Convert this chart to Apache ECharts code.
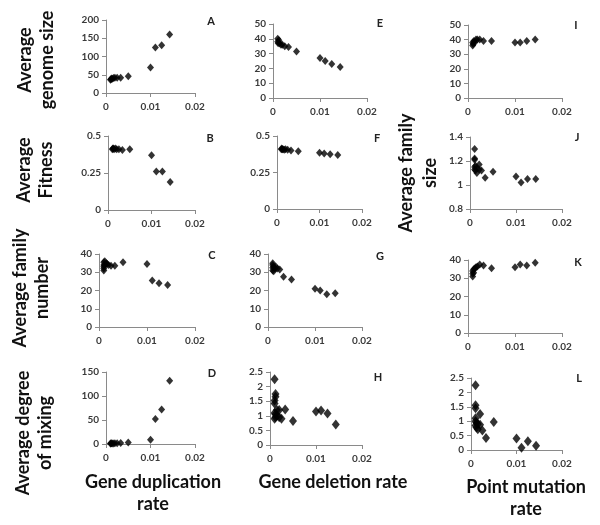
<!DOCTYPE html>
<html><head><meta charset="utf-8">
<script src="https://cdn.jsdelivr.net/npm/echarts@6/dist/echarts.min.js"></script>
<style>html,body{margin:0;padding:0;background:#fff}#c{width:600px;height:525px}</style>
</head><body><div id="c"></div>
<script>
// Panel data (x = rate, y = measured average)
const aX = [0.001, 0.0011, 0.00125, 0.0014, 0.0017, 0.002, 0.0025, 0.0033, 0.005, 0.01, 0.0111, 0.0125, 0.0143];
const aY = [36, 38, 40, 39, 41, 42, 42, 42, 46, 70, 125, 131, 160];
const eX = [0.001, 0.001, 0.0011, 0.00125, 0.0014, 0.0017, 0.002, 0.0025, 0.0033, 0.005, 0.01, 0.0111, 0.0125, 0.0143];
const eY = [40, 38, 37, 39, 37, 36, 36, 35, 34.5, 31.5, 27, 25, 23, 21];
const iX = [0.001, 0.001, 0.0011, 0.00125, 0.0014, 0.0017, 0.002, 0.0025, 0.0033, 0.005, 0.01, 0.0111, 0.0125, 0.0143];
const iY = [38, 36, 37, 39, 38, 40, 40, 40, 39, 39, 38, 38, 39, 40];
const bX = [0.001, 0.0011, 0.00125, 0.0014, 0.0017, 0.002, 0.0025, 0.0033, 0.005, 0.01, 0.0111, 0.0125, 0.0143];
const bY = [0.41, 0.415, 0.415, 0.41, 0.415, 0.41, 0.41, 0.405, 0.41, 0.37, 0.26, 0.26, 0.19];
const fX = [0.001, 0.0011, 0.00125, 0.0014, 0.0017, 0.002, 0.0025, 0.0033, 0.005, 0.01, 0.0111, 0.0125, 0.0143];
const fY = [0.41, 0.415, 0.41, 0.41, 0.405, 0.41, 0.405, 0.40, 0.395, 0.385, 0.38, 0.375, 0.37];
const jX = [0.001, 0.001, 0.001, 0.001, 0.001, 0.0012, 0.0012, 0.0015, 0.0015, 0.002, 0.002, 0.0025, 0.0033, 0.005, 0.01, 0.0111, 0.0125, 0.0143];
const jY = [1.30, 1.22, 1.21, 1.15, 1.13, 1.16, 1.12, 1.14, 1.10, 1.17, 1.13, 1.12, 1.06, 1.11, 1.07, 1.02, 1.05, 1.05];
const cX = [0.001, 0.001, 0.001, 0.001, 0.001, 0.0012, 0.0012, 0.0015, 0.0017, 0.002, 0.0025, 0.0033, 0.005, 0.01, 0.0111, 0.0125, 0.0143];
const cY = [31, 32, 33, 34, 35.5, 34, 36, 35, 34.5, 34, 33.5, 33.5, 35.5, 34.5, 25.5, 24, 23];
const gX = [0.001, 0.001, 0.001, 0.001, 0.0012, 0.0012, 0.0015, 0.0017, 0.002, 0.0025, 0.0033, 0.005, 0.01, 0.0111, 0.0125, 0.0143];
const gY = [31, 32.5, 34, 35, 33, 30.5, 32, 33, 32, 31.5, 27.5, 26, 21, 20, 18, 18.5];
const kX = [0.001, 0.001, 0.001, 0.0012, 0.0012, 0.0015, 0.0017, 0.002, 0.0025, 0.0033, 0.005, 0.01, 0.0111, 0.0125, 0.0143];
const kY = [31, 32.5, 34, 33, 35, 35.5, 36, 36.5, 37.5, 37, 35.5, 36, 37.5, 37, 38.5];
const dX = [0.001, 0.0011, 0.00125, 0.0014, 0.0017, 0.002, 0.0025, 0.0033, 0.005, 0.01, 0.0111, 0.0125, 0.0143];
const dY = [1, 1, 1.5, 1, 1, 1.5, 1.5, 2, 3, 9, 52, 72, 132];
const hX = [0.001, 0.001, 0.001, 0.001, 0.001, 0.0012, 0.0012, 0.0012, 0.0012, 0.0015, 0.0015, 0.002, 0.002, 0.0025, 0.0033, 0.005, 0.01, 0.0111, 0.0125, 0.0143];
const hY = [2.25, 1.52, 1.42, 1.1, 0.9, 1.75, 1.65, 1.05, 0.95, 1.2, 1.0, 1.2, 0.95, 0.9, 1.22, 0.82, 1.15, 1.18, 1.08, 0.7];
const lX = [0.001, 0.001, 0.001, 0.001, 0.001, 0.001, 0.0012, 0.0012, 0.0015, 0.0015, 0.002, 0.002, 0.0025, 0.0033, 0.005, 0.01, 0.0111, 0.0125, 0.0143];
const lY = [2.25, 1.55, 1.45, 1.1, 1.0, 0.85, 0.95, 0.78, 0.9, 0.72, 1.25, 0.88, 0.68, 0.42, 0.97, 0.4, 0.08, 0.3, 0.15];

// y-axis ranges per panel [min, max, interval]
const yRanges = {
  A:[0,200,50], E:[0,50,10], I:[0,50,10],
  B:[0,0.5,0.25], F:[0,0.5,0.25], J:[0.8,1.4,0.2],
  C:[0,40,10], G:[0,40,10], K:[0,40,10],
  D:[0,150,50], H:[0,2.5,0.5], L:[0,2.5,0.5]
};
const xTicks = [0, 0.01, 0.02];
const panelLetters = ['A','E','I','B','F','J','C','G','K','D','H','L'];
const yTitles = ['Average\ngenome size','Average\nFitness','Average family\nnumber','Average degree\nof mixing'];
const jTitle = 'Average family\nsize';
const xTitles = ['Gene duplication\nrate','Gene deletion rate','Point mutation\nrate'];

const data = {A:[aX,aY],E:[eX,eY],I:[iX,iY],B:[bX,bY],F:[fX,fY],J:[jX,jY],C:[cX,cY],G:[gX,gY],K:[kX,kY],D:[dX,dY],H:[hX,hY],L:[lX,lY]};

// layout (pixels)
const layout = {
  A:{l:106,t:20,w:89,h:73}, E:{l:273,t:24,w:94,h:74}, I:{l:468,t:25,w:94,h:73},
  B:{l:108,t:136,w:87,h:74}, F:{l:277,t:136,w:85,h:73}, J:{l:470,t:137,w:92,h:72},
  C:{l:99,t:254,w:96,h:73}, G:{l:268,t:254,w:94,h:73}, K:{l:468,t:260,w:94,h:73},
  D:{l:106,t:372,w:89,h:72}, H:{l:270,t:372,w:92,h:73}, L:{l:471,t:378,w:91,h:72}
};
const letterPos = {A:[211,21],E:[380,23],I:[576,25],B:[210,138],F:[377,138],J:[577,137],C:[212,255],G:[380,256],K:[578,262],D:[212,373],H:[378,377],L:[579,378]};

const FONT = 'Lato';
const axisColor = '#8a8a8a';
const labelColor = '#3a3a3a';
function fmt(v){ return String(Math.round(v*1000)/1000); }

const grid=[], xAxis=[], yAxis=[], series=[], graphic=[];
panelLetters.forEach((p,i)=>{
  const L = layout[p];
  grid.push({left:L.l, top:L.t, width:L.w, height:L.h, containLabel:false});
  xAxis.push({type:'value', gridIndex:i, min:xTicks[0], max:xTicks[2], interval:0.01,
    axisLine:{show:true,onZero:false,lineStyle:{color:axisColor,width:1}},
    axisTick:{show:true,length:4,lineStyle:{color:axisColor}},
    splitLine:{show:false},
    axisLabel:{color:labelColor,fontFamily:FONT,fontWeight:'bold',fontSize:10,margin:9,formatter:fmt}});
  const r = yRanges[p];
  yAxis.push({type:'value', gridIndex:i, min:r[0], max:r[1], interval:r[2],
    axisLine:{show:true,onZero:false,lineStyle:{color:axisColor,width:1}},
    axisTick:{show:true,length:4,lineStyle:{color:axisColor}},
    splitLine:{show:false},
    axisLabel:{color:labelColor,fontFamily:FONT,fontWeight:'bold',fontSize:10,margin:7,formatter:fmt}});
  const big = (p==='H'||p==='L');
  const xs = data[p][0], ys = data[p][1];
  series.push({type:'scatter', xAxisIndex:i, yAxisIndex:i,
    symbol:'diamond', symbolSize: big?[8,10]:[7,8],
    itemStyle:{color:'#000'},
    data: xs.map((x,k)=>[x, ys[k]])});
  graphic.push({type:'text', x:letterPos[p][0], y:letterPos[p][1],
    style:{text:p, font:'bold 11px '+FONT, fill:'#222', align:'center', verticalAlign:'middle'}});
});

// y-axis titles (rotated)
const yTitlePos = [[36,60],[35,170],[31,288],[34,433]];
yTitles.forEach((t,k)=>{
  graphic.push({type:'text', x:yTitlePos[k][0], y:yTitlePos[k][1], rotation:Math.PI/2,
    style:{text:t, font:'bold 18px '+FONT, fill:'#111', align:'center', verticalAlign:'middle', lineHeight:22}});
});
graphic.push({type:'text', x:418, y:173, rotation:Math.PI/2,
  style:{text:jTitle, font:'bold 18px '+FONT, fill:'#111', align:'center', verticalAlign:'middle', lineHeight:24}});

// x-axis titles
const xTitlePos = [[153,493],[333,482],[526,498]];
xTitles.forEach((t,k)=>{
  graphic.push({type:'text', x:xTitlePos[k][0], y:xTitlePos[k][1],
    style:{text:t, font:'bold 18px '+FONT, fill:'#111', align:'center', verticalAlign:'middle', lineHeight:22}});
});

const chart = echarts.init(document.getElementById('c'), null, {renderer:'canvas'});
chart.setOption({animation:false, backgroundColor:'#fff', grid, xAxis, yAxis, series, graphic});
</script></body></html>
